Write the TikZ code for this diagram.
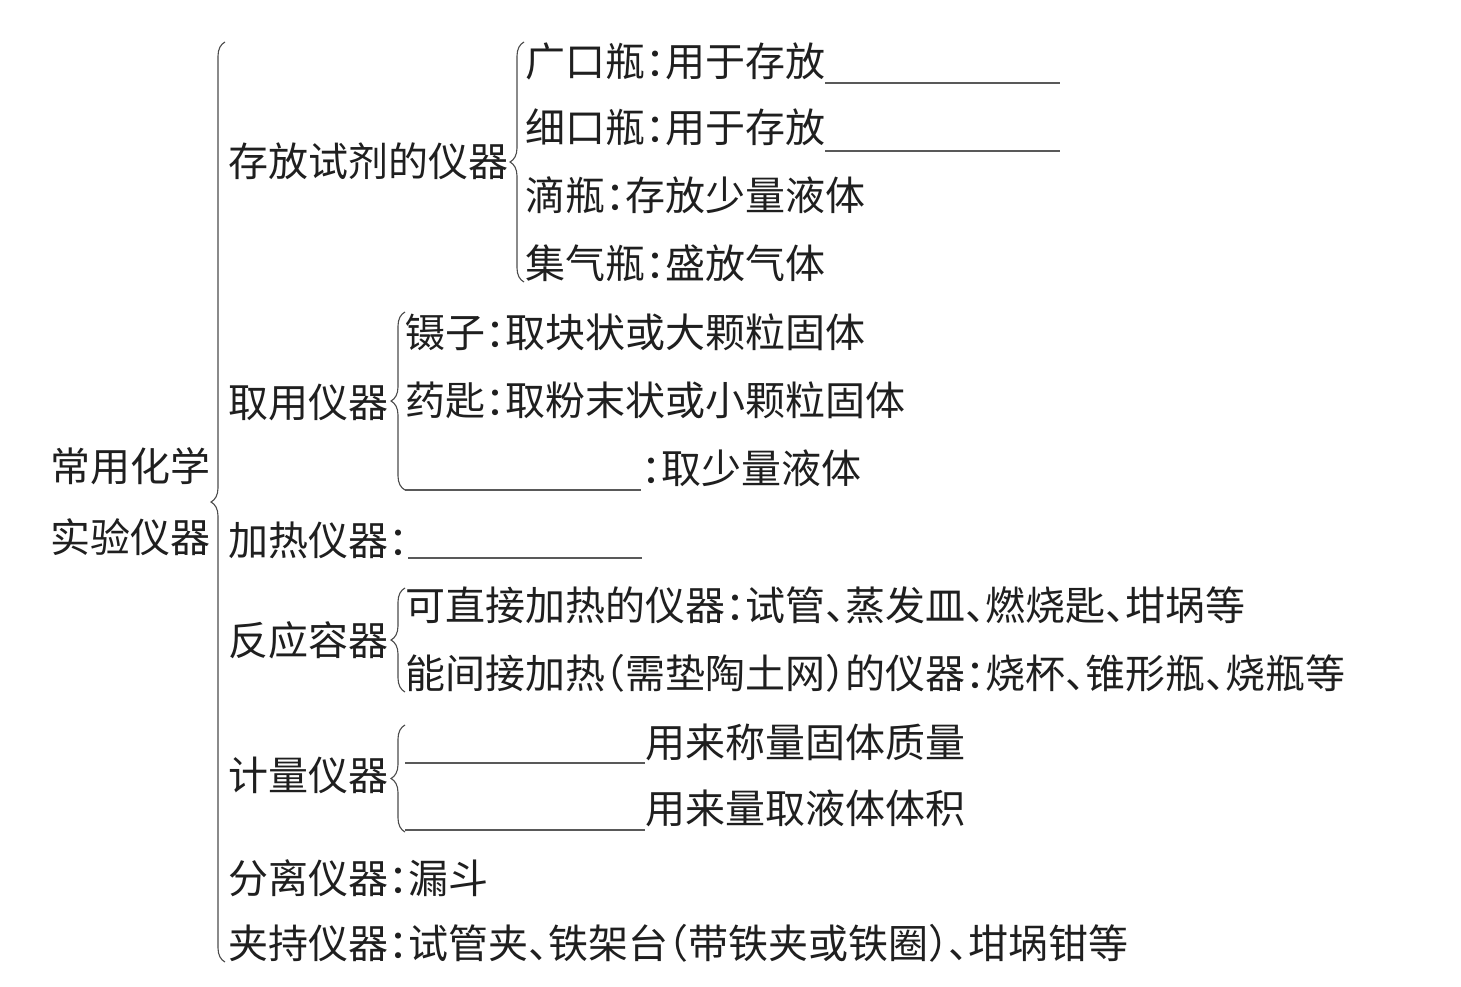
\documentclass[tikz,border=0pt]{standalone}
\usepackage{fontspec}
\newfontfamily\cjk{Noto Sans CJK SC}[RawFeature=+halt]
\usetikzlibrary{decorations.pathreplacing}
\begin{document}
\begin{tikzpicture}[x=1pt,y=-1pt,
  txt/.style={font=\cjk\fontsize{40}{40}\selectfont, anchor=base west, inner sep=0pt, outer sep=0pt, text=black!88},
  blank/.style={draw=black!65, line width=1.4pt},
  brc/.style={decorate, decoration={brace, amplitude=14pt}, draw=black!70, line width=1.1pt}]
\useasboundingbox[fill=white] (0,0) rectangle (1461,987);

% root
\node[txt] (root1) at (50,481) {常用化学};
\node[txt] (root2) at (50,552) {实验仪器};

% level 1
\node[txt] (c1) at (228,177) {存放试剂的仪器};
\node[txt] (c2) at (228,417) {取用仪器};
\node[txt] (c3) at (228,555) {加热仪器：};
\node[txt] (c4) at (228,655) {反应容器};
\node[txt] (c5) at (228,790) {计量仪器};
\node[txt] (c6) at (228,893) {分离仪器：漏斗};
\node[txt] (c7) at (228,958) {夹持仪器：试管夹、铁架台（带铁夹或铁圈）、坩埚钳等};

% storage
\node[txt] (a1) at (525,77) {广口瓶：用于存放};
\node[txt] (a2) at (525,143) {细口瓶：用于存放};
\node[txt] (a3) at (525,211) {滴瓶：存放少量液体};
\node[txt] (a4) at (525,278) {集气瓶：盛放气体};
\coordinate (a1e) at (1060,83);
\coordinate (a2e) at (1060,151);
\draw[blank] (a1.base east |- a1e) -- (a1e);
\draw[blank] (a2.base east |- a2e) -- (a2e);

% taking
\node[txt] (b1) at (405,347) {镊子：取块状或大颗粒固体};
\node[txt] (b2) at (405,415) {药匙：取粉末状或小颗粒固体};
\node[txt] (b3) at (641,483) {：取少量液体};
\coordinate (b3s) at (405,490);
\draw[blank] (b3s) -- (b3.base west |- b3s);

% heating
\coordinate (c3e) at (642,558);
\draw[blank] (c3.base east |- c3e) -- (c3e);

% reaction
\node[txt] (d1) at (405,620) {可直接加热的仪器：试管、蒸发皿、燃烧匙、坩埚等};
\node[txt] (d2) at (405,688) {能间接加热（需垫陶土网）的仪器：烧杯、锥形瓶、烧瓶等};

% measuring
\node[txt] (e1) at (645,757) {用来称量固体质量};
\node[txt] (e2) at (645,823) {用来量取液体体积};
\coordinate (e1s) at (405,763);
\coordinate (e2s) at (405,830);
\draw[blank] (e1s) -- (e1.base west |- e1s);
\draw[blank] (e2s) -- (e2.base west |- e2s);

% braces
\coordinate (mB) at (225,962); \coordinate (mT) at (225,42);
\coordinate (sB) at (524,282); \coordinate (sT) at (524,42);
\coordinate (tB) at (405,490); \coordinate (tT) at (405,312);
\coordinate (rB) at (405,692); \coordinate (rT) at (405,588);
\coordinate (jB) at (405,832); \coordinate (jT) at (405,725);
\draw[brc] (mB) -- (mT);
\draw[brc] (sB) -- (sT);
\draw[brc] (tB) -- (tT);
\draw[brc] (rB) -- (rT);
\draw[brc] (jB) -- (jT);
\end{tikzpicture}
\end{document}
